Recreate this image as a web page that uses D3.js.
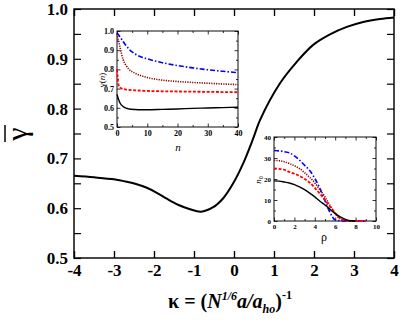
<!DOCTYPE html>
<html>
<head>
<meta charset="utf-8">
<script src="https://cdn.jsdelivr.net/npm/d3@7"></script>
<style>
  body { margin: 0; background: #fff; }
  svg { display: block; font-family: "Liberation Serif", "DejaVu Serif", serif; }
  svg text { font-family: "Liberation Serif", "DejaVu Serif", serif !important; }
  .tick text { font-weight: bold; }
</style>
</head>
<body>
<script>
// main curve: mean gamma vs kappa
var kappa = [-4, -3.5, -3, -2.68, -2.43, -2.18, -1.93, -1.68, -1.4, -1.1, -0.83, -0.52, -0.27, -0.02, 0.23, 0.48, 0.65, 1.15, 1.57, 1.98, 2.4, 2.82, 3.23, 3.65, 4];
var gammaBar = [0.665, 0.662, 0.658, 0.653, 0.648, 0.641, 0.631, 0.619, 0.607, 0.598, 0.593, 0.602, 0.620, 0.650, 0.690, 0.740, 0.777, 0.851, 0.894, 0.928, 0.949, 0.964, 0.974, 0.980, 0.983];
var mainXTicks = [-4, -3, -2, -1, 0, 1, 2, 3, 4];
var mainYTicks = [0.5, 0.6, 0.7, 0.8, 0.9, 1.0];

// inset 1: gamma(n)
var nVals = [0, 0.5, 1, 2, 3, 4, 6, 8, 10, 15, 20, 25, 30, 35, 40];
var gBlue = [0.99, 0.98, 0.97, 0.945, 0.925, 0.905, 0.88, 0.865, 0.855, 0.835, 0.82, 0.808, 0.798, 0.79, 0.783];
var gDarkRed = [0.985, 0.95, 0.915, 0.852, 0.82, 0.80, 0.78, 0.767, 0.758, 0.744, 0.737, 0.732, 0.728, 0.724, 0.721];
var gRed = [0.80, 0.72, 0.705, 0.698, 0.695, 0.693, 0.691, 0.689, 0.688, 0.686, 0.685, 0.684, 0.683, 0.682, 0.681];
var gBlack = [0.67, 0.645, 0.625, 0.607, 0.598, 0.594, 0.591, 0.59, 0.59, 0.592, 0.594, 0.597, 0.599, 0.601, 0.603];

// inset 2: n0 vs rho
var rhoVals = [0, 0.5, 1, 1.5, 2, 2.5, 3, 3.5, 4, 4.5, 5, 5.5, 6, 6.5, 7, 7.5, 8, 8.5, 9];
var nBlack = [19.1, 19, 18.6, 18.1, 17.3, 16.2, 14.9, 13.3, 11.5, 9.4, 7.6, 5.5, 3.5, 2.0, 0.8, 0.1, 0, null, null];
var nBlue = [33.6, 33.4, 33, 32.5, 31, 29, 26.5, 24, 20.3, 15.5, 9.6, 4, 0.5, 0.1, 0, 0, 0, 0, 0];
var nDarkRed = [28.9, 28.7, 28.2, 27.4, 26.3, 25, 23, 20.8, 18.2, 14.8, 11.5, 7.3, 3.5, 1, 0.2, 0, 0, 0, null];
var nRed = [25, 24.8, 24.4, 23.4, 22.5, 21.5, 20, 18.3, 15.8, 13, 10, 6.8, 3.8, 1.2, 0.3, 0, 0, 0, 0];

var styles = {
    blue: { color: "#0000ff", dash: "5,2,1.5,2", width: 1.6 },
    darkred: { color: "#8b0000", dash: "1.2,1.2", width: 1.6 },
    red: { color: "#ff0000", dash: "3,1.6", width: 1.8 },
    black: { color: "#000", dash: null, width: 1.4 }
};

var width = 403, height = 327;
var svg = d3.select("body").append("svg")
    .attr("width", width)
    .attr("height", height);

//plain hyphen instead of unicode minus
var intFmt = function (d) { return String(d); };
var oneDec = function (d) { return d.toFixed(1); };

//draw a framed panel with inward ticks on all four sides
function framePanel(x, y, opts) {
    var g = svg.append("g");
    var x0 = x.range()[0], x1 = x.range()[1], y0 = y.range()[0], y1 = y.range()[1];
    var tickGroups = [
        { axis: d3.axisBottom(x), tr: "translate(0," + y0 + ")", minor: opts.xMinor, major: opts.xTicks, fmt: opts.xFmt },
        { axis: d3.axisTop(x), tr: "translate(0," + y1 + ")", minor: opts.xMinor, major: opts.xTicks, fmt: null },
        { axis: d3.axisLeft(y), tr: "translate(" + x0 + ",0)", minor: opts.yMinor, major: opts.yTicks, fmt: opts.yFmt },
        { axis: d3.axisRight(y), tr: "translate(" + x1 + ",0)", minor: opts.yMinor, major: opts.yTicks, fmt: null }
    ];
    tickGroups.forEach(function (t) {
        //minor ticks first
        var mg = g.append("g").attr("transform", t.tr)
            .call(t.axis.tickValues(t.minor).tickSize(-opts.minorLen).tickFormat(""));
        mg.select(".domain").remove();
        mg.selectAll("line").attr("stroke-width", opts.lw);
        var ax = g.append("g").attr("transform", t.tr)
            .call(t.axis.tickValues(t.major).tickSize(-opts.tickLen).tickPadding(opts.pad)
                .tickFormat(t.fmt ? t.fmt : ""));
        ax.select(".domain").remove();
        ax.selectAll("line").attr("stroke-width", opts.lw);
        ax.selectAll("text")
            .style("font-size", opts.fs + "px")
            .style("font-weight", "bold")
            .attr("fill", "#000");
    });
    g.append("rect")
        .attr("x", x0).attr("y", y1)
        .attr("width", x1 - x0).attr("height", y0 - y1)
        .attr("fill", "none").attr("stroke", "#000").attr("stroke-width", opts.lw * 1.2);
    return g;
}

function drawSeries(xs, ys, x, y, st, curve) {
    var pts = xs.map(function (d, i) { return [d, ys[i]]; }).filter(function (p) { return p[1] !== null; });
    var line = d3.line()
        .x(function (d) { return x(d[0]); })
        .y(function (d) { return y(d[1]); })
        .curve(curve || d3.curveMonotoneX);
    svg.append("path")
        .datum(pts)
        .attr("d", line)
        .attr("fill", "none")
        .attr("stroke", st.color)
        .attr("stroke-width", st.width)
        .attr("stroke-dasharray", st.dash);
}

// ---- main plot ----
var xMain = d3.scaleLinear().domain([-4, 4]).range([74, 394]);
var yMain = d3.scaleLinear().domain([0.5, 1.0]).range([258, 9]);

framePanel(xMain, yMain, {
    xTicks: mainXTicks, yTicks: mainYTicks,
    xMinor: mainXTicks, yMinor: [0.55, 0.65, 0.75, 0.85, 0.95],
    tickLen: 7, minorLen: 7, lw: 1.2, pad: 6, fs: 17,
    xFmt: intFmt, yFmt: oneDec
});
drawSeries(kappa, gammaBar, xMain, yMain, { color: "#000", dash: null, width: 2 }, d3.curveCatmullRom);

// y label: gamma with overbar, rotated
var yl = svg.append("g").attr("transform", "translate(27,134) rotate(-90)");
yl.append("text")
    .attr("text-anchor", "middle")
    .attr("font-size", 30)
    .text("γ");
yl.append("line")
    .attr("x1", -8).attr("x2", 9)
    .attr("y1", -22).attr("y2", -22)
    .attr("stroke", "#000").attr("stroke-width", 1.5);

// x label
var xl = svg.append("text")
    .attr("x", 230).attr("y", 308)
    .attr("text-anchor", "middle")
    .attr("font-size", 20)
    .attr("font-weight", "bold");
xl.append("tspan").text("κ = (");
xl.append("tspan").attr("font-style", "italic").text("N");
xl.append("tspan").attr("font-style", "italic").attr("font-size", 12).attr("dy", -8).text("1/6");
xl.append("tspan").attr("font-style", "italic").attr("dy", 8).text("a/a");
xl.append("tspan").attr("font-style", "italic").attr("font-size", 12).attr("dy", 5).text("ho");
xl.append("tspan").attr("dy", -5).text(")");
xl.append("tspan").attr("font-size", 12).attr("dy", -9).text("-1");

// ---- inset 1 ----
var xIn1 = d3.scaleLinear().domain([0, 40]).range([117, 238]);
var yIn1 = d3.scaleLinear().domain([0.5, 1.0]).range([127, 31]);
framePanel(xIn1, yIn1, {
    xTicks: [0, 10, 20, 30, 40], yTicks: [0.5, 0.6, 0.7, 0.8, 0.9, 1.0],
    xMinor: [5, 15, 25, 35], yMinor: [0.55, 0.65, 0.75, 0.85, 0.95],
    tickLen: 3.5, minorLen: 2, lw: 0.8, pad: 3, fs: 8,
    xFmt: intFmt, yFmt: oneDec
});
drawSeries(nVals, gBlue, xIn1, yIn1, styles.blue);
drawSeries(nVals, gDarkRed, xIn1, yIn1, styles.darkred);
drawSeries(nVals, gRed, xIn1, yIn1, styles.red);
drawSeries(nVals, gBlack, xIn1, yIn1, styles.black);

svg.append("text")
    .attr("transform", "translate(105,80) rotate(-90)")
    .attr("text-anchor", "middle")
    .attr("font-size", 9)
    .html("γ(<tspan font-style='italic'>n</tspan>)");
svg.append("text")
    .attr("x", 178).attr("y", 151)
    .attr("text-anchor", "middle")
    .attr("font-size", 11)
    .attr("font-style", "italic")
    .text("n");

// ---- inset 2 ----
var xIn2 = d3.scaleLinear().domain([0, 10]).range([274, 376]);
var yIn2 = d3.scaleLinear().domain([0, 40]).range([221, 137]);
framePanel(xIn2, yIn2, {
    xTicks: [0, 2, 4, 6, 8, 10], yTicks: [0, 10, 20, 30, 40],
    xMinor: [1, 3, 5, 7, 9], yMinor: [5, 15, 25, 35],
    tickLen: 3.5, minorLen: 2, lw: 0.8, pad: 3, fs: 7,
    xFmt: intFmt, yFmt: intFmt
});
drawSeries(rhoVals, nBlue, xIn2, yIn2, styles.blue);
drawSeries(rhoVals, nDarkRed, xIn2, yIn2, styles.darkred);
drawSeries(rhoVals, nRed, xIn2, yIn2, styles.red);
drawSeries(rhoVals, nBlack, xIn2, yIn2, styles.black);

svg.append("text")
    .attr("transform", "translate(261,180) rotate(-90)")
    .attr("text-anchor", "middle")
    .attr("font-size", 9)
    .attr("font-style", "italic")
    .html("n<tspan font-size='6' dy='2' font-style='normal'>0</tspan>");
svg.append("text")
    .attr("x", 324).attr("y", 241)
    .attr("text-anchor", "middle")
    .attr("font-size", 12)
    .text("ρ");
</script>
</body>
</html>
